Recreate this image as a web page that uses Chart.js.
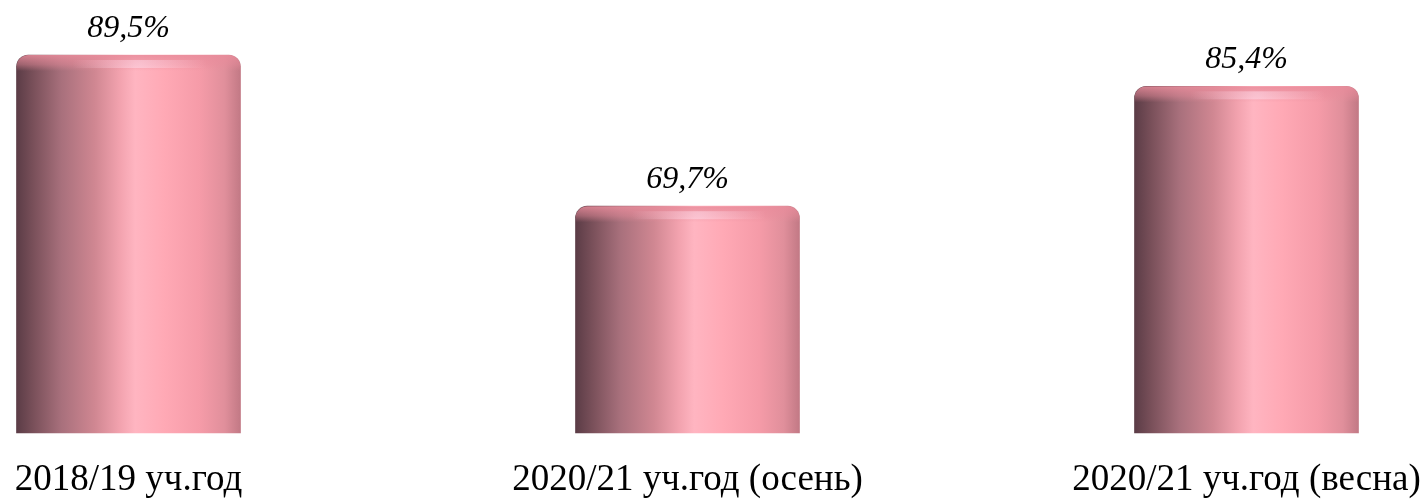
<!DOCTYPE html>
<html>
<head>
<meta charset="utf-8">
<script src="https://cdn.jsdelivr.net/npm/chart.js@4/dist/chart.umd.min.js"></script>
<style>
  html, body { margin: 0; padding: 0; background: #fff; }
  #wrap { width: 1422px; height: 499px; }
</style>
</head>
<body>
<div id="wrap"><canvas id="chart"></canvas></div>
<script>
// данные диаграммы
const categories = ['2018/19 уч.год', '2020/21 уч.год (осень)', '2020/21 уч.год (весна)'];
const values = [89.5, 69.7, 85.4];
const yMin = 40;
const yMax = 95;

const BAR_W = 224;

// горизонтальный градиент "цилиндра"
function cylinderFill(ctx) {
    const chart = ctx.chart;
    if (!chart.chartArea || !chart.scales.x) return '#f0a0ac';
    const cx = chart.scales.x.getPixelForValue(ctx.dataIndex);
    const g = chart.ctx.createLinearGradient(cx - BAR_W / 2, 0, cx + BAR_W / 2, 0);
    g.addColorStop(0.00, '#5b3c46');
    g.addColorStop(0.08, '#7b515b');
    g.addColorStop(0.20, '#a8707c');
    g.addColorStop(0.35, '#d08792');
    g.addColorStop(0.46, '#f2a2ae');
    g.addColorStop(0.53, '#ffb5c1');
    g.addColorStop(0.66, '#ffa9b5');
    g.addColorStop(0.82, '#f59ba8');
    g.addColorStop(0.93, '#e08f9b');
    g.addColorStop(1.00, '#c27985');
    return g;
}

// верхняя "крышка" цилиндра и подписи значений
const capAndLabels = {
    id: 'capAndLabels',
    afterDatasetsDraw(chart) {
        const c = chart.ctx;
        const meta = chart.getDatasetMeta(0);
        meta.data.forEach((bar, i) => {
            const left = bar.x - bar.width / 2;
            const top = bar.y;
            const w = bar.width;
            const capH = 16;
            c.save();
            c.beginPath();
            c.roundRect(left, top, w, capH, [12, 12, 0, 0]);
            c.clip();
            const vg = c.createLinearGradient(0, top, 0, top + capH);
            vg.addColorStop(0, 'rgba(232,140,155,0.85)');
            vg.addColorStop(0.6, 'rgba(232,140,155,0.45)');
            vg.addColorStop(1, 'rgba(232,140,155,0)');
            c.fillStyle = vg;
            c.fillRect(left, top, w, capH);
            const hy = top + 9;
            const hg = c.createRadialGradient(left + w * 0.55, hy, 0, left + w * 0.55, hy, w * 0.3);
            hg.addColorStop(0, 'rgba(255,225,240,0.5)');
            hg.addColorStop(1, 'rgba(255,225,240,0)');
            c.fillStyle = hg;
            c.fillRect(left, top + 5, w, 8);
            c.restore();

            c.save();
            c.font = 'italic 32px "Liberation Serif"';
            c.fillStyle = '#000';
            c.textAlign = 'center';
            c.textBaseline = 'alphabetic';
            c.fillText(values[i].toFixed(1).replace('.', ',') + '%', bar.x, top - 18);
            c.restore();
        });
    }
};

new Chart(document.getElementById('chart'), {
    type: 'bar',
    data: {
        labels: categories,
        datasets: [{
            data: values,
            base: yMin,
            backgroundColor: cylinderFill,
            borderWidth: 0,
            borderRadius: { topLeft: 12, topRight: 12, bottomLeft: 0, bottomRight: 0 },
            borderSkipped: 'bottom',
            barThickness: BAR_W,
            clip: false
        }]
    },
    options: {
        responsive: true,
        maintainAspectRatio: false,
        animation: false,
        layout: { padding: { top: 13, left: 128.5, right: 175.5, bottom: 0 } },
        plugins: {
            legend: { display: false },
            tooltip: { enabled: false }
        },
        scales: {
            x: {
                offset: false,
                grid: { display: false },
                border: { display: false },
                ticks: {
                    color: '#000',
                    padding: 21,
                    maxRotation: 0,
                    autoSkip: false,
                    font: { family: '"Liberation Serif"', size: 37, lineHeight: 1 }
                },
                afterFit(scale) {
                    scale.height = 66;
                    scale.paddingLeft = 0;
                    scale.paddingRight = 0;
                }
            },
            y: {
                display: false,
                min: yMin,
                max: yMax
            }
        }
    },
    plugins: [capAndLabels]
});
</script>
</body>
</html>
